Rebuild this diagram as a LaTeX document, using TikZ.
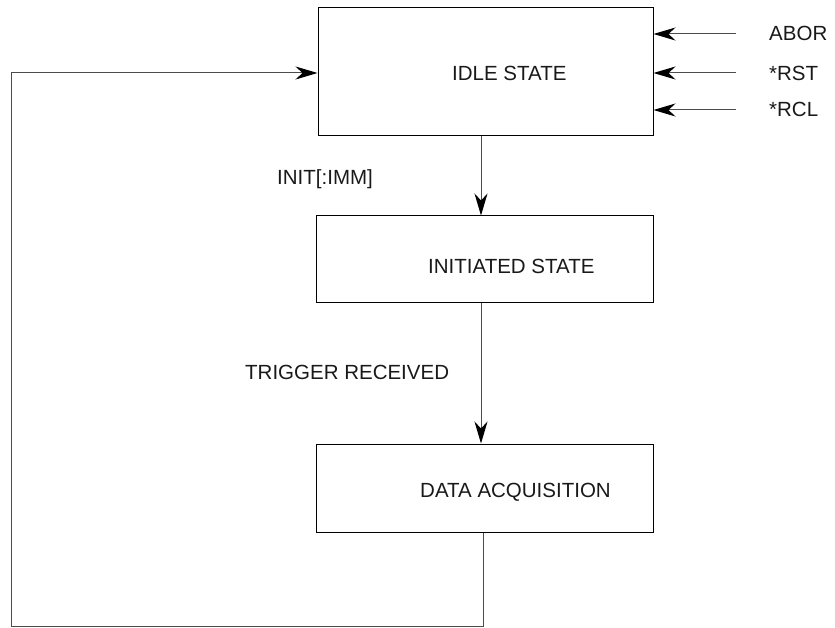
\documentclass[tikz,border=0pt]{standalone}
\usepackage{fontspec}
\setmainfont{Liberation Sans}
\usetikzlibrary{arrows.meta}
\begin{document}
\begin{tikzpicture}[x=1pt,y=-1pt,
  box/.style={draw=black,line width=1pt,inner sep=0pt},
  conn/.style={draw=black!70,line width=1pt},
  arr/.style={conn,-{Stealth[length=22pt,width=13pt,inset=7pt,color=black]}},
  lbl/.style={anchor=base west,inner sep=0pt,font=\fontsize{20.5pt}{24pt}\selectfont,text=black!90}]
\useasboundingbox (0,0) rectangle (835,628);
% boxes
\node[box,minimum width=335pt,minimum height=128pt] (idle) at (485.5,72) {};
\node[box,minimum width=337pt,minimum height=86pt] (init) at (484.5,259) {};
\node[box,minimum width=337pt,minimum height=88pt] (daq) at (484.5,488) {};
% box texts
\node[lbl] (tidle) at (452,81) {IDLE STATE};
\node[lbl] (tinit) at (428,273) {INITIATED STATE};
\node[lbl] (tdaq) at (420,497) {DATA ACQUISITION};
% transition labels
\node[lbl] (linit) at (277,185) {INIT[:IMM]};
\node[lbl] (ltrig) at (245,379) {TRIGGER RECEIVED};
% right input labels
\node[lbl] (labor) at (769,41) {ABOR};
\node[lbl] (lrst) at (769,81) {*RST};
\node[lbl] (lrcl) at (769,117) {*RCL};
% coordinates
\coordinate (ax) at (481,0);
\coordinate (bx) at (483,0);
\coordinate (in1) at (736,34);
\coordinate (in2) at (736,73);
\coordinate (in3) at (736,110);
\coordinate (fb1) at (483,626);
\coordinate (fb2) at (11,626);
\coordinate (fb3) at (11,73);
% connectors
\draw[arr] (idle.south -| ax) -- (init.north -| ax);
\draw[arr] (init.south -| ax) -- (daq.north -| ax);
\draw[arr] (in1) -- (idle.east |- in1);
\draw[arr] (in2) -- (idle.east |- in2);
\draw[arr] (in3) -- (idle.east |- in3);
\draw[arr] (daq.south -| bx) -- (fb1) -- (fb2) -- (fb3) -- (idle.west |- fb3);
\end{tikzpicture}
\end{document}
